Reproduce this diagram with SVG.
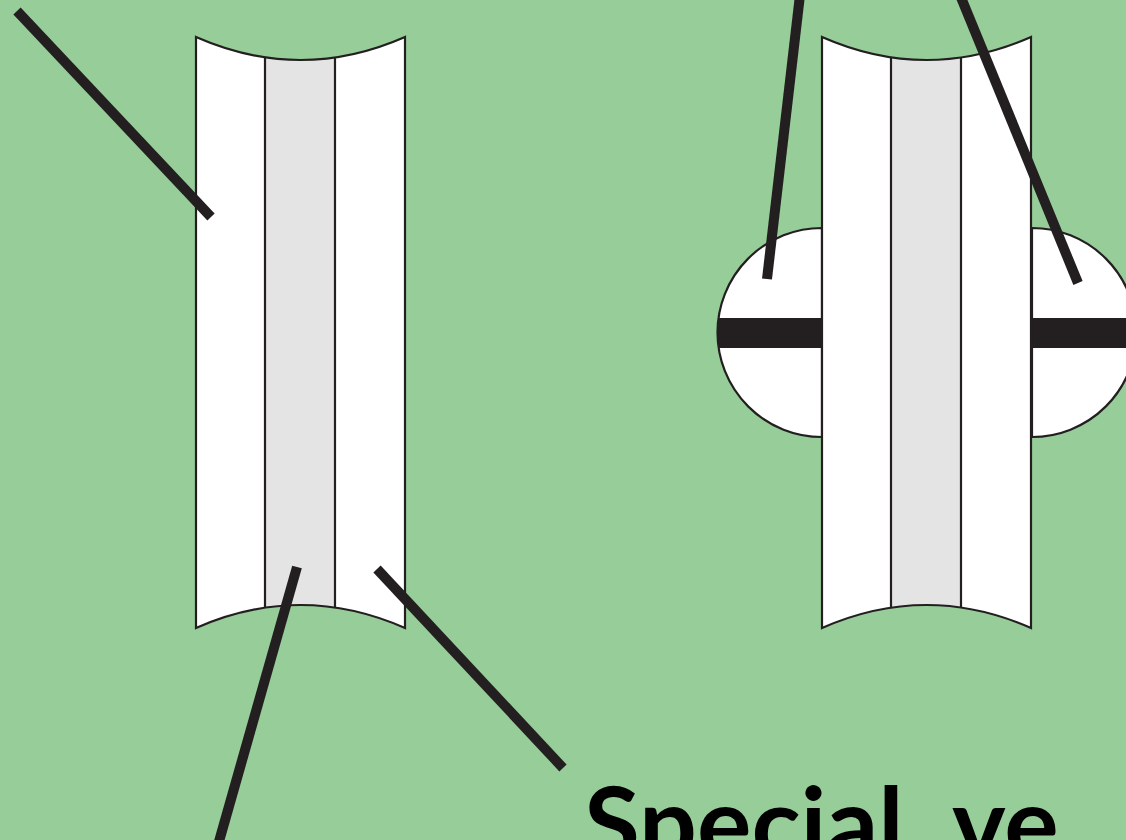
<svg xmlns="http://www.w3.org/2000/svg" width="1126" height="840" viewBox="0 0 1126 840">
  <style>
    .outline { fill: none; stroke: #231f20; stroke-width: 2.2; }
    .wall { fill: #ffffff; }
    .lumen { fill: #e4e4e4; }
    .cap { fill: #ffffff; stroke: #231f20; stroke-width: 2.2; }
    .band { fill: #231f20; }
    .leader { stroke: #231f20; stroke-width: 10; stroke-linecap: butt; fill: none; }
    .label { font-family: "Lato", "Liberation Sans", sans-serif; font-size: 102px; font-weight: 700; fill: #000000; word-spacing: 26px; }
  </style>
  <defs>
    <path id="tube-shape" d="M196,37 Q300.5,83 405,37 L405,628 Q300.5,582 196,628 Z"/>
    <clipPath id="tube-clip">
      <use href="#tube-shape"/>
    </clipPath>
    <g id="tube">
      <use href="#tube-shape" class="wall"/>
      <g clip-path="url(#tube-clip)">
        <rect x="265" y="0" width="70" height="700" class="lumen"/>
        <line x1="265" y1="0" x2="265" y2="700" class="outline"/>
        <line x1="335" y1="0" x2="335" y2="700" class="outline"/>
      </g>
      <use href="#tube-shape" class="outline"/>
    </g>
  </defs>

  <rect width="1126" height="840" fill="#97cd99"/>

  <g id="plain-vessel">
    <use href="#tube"/>
  </g>

  <g id="ringed-vessel">
    <g id="left-ring">
      <path d="M822,228 A104.5,104.5 0 0 0 822,437 Z" class="cap"/>
      <rect x="718" y="318" width="104" height="30" class="band"/>
    </g>
    <g id="right-ring">
      <path d="M1032,228 A104.5,104.5 0 0 1 1032,437 Z" class="cap"/>
      <rect x="1032" y="318" width="100" height="30" class="band"/>
    </g>
    <use href="#tube" transform="translate(626,0)"/>
  </g>

  <g id="connectors">
    <line x1="17" y1="11" x2="211" y2="217" class="leader"/>
    <line x1="297" y1="567" x2="218" y2="845" class="leader"/>
    <line x1="377" y1="569" x2="563" y2="768" class="leader"/>
    <line x1="800" y1="-5" x2="767" y2="279" class="leader"/>
    <line x1="960" y1="-5" x2="1078" y2="283" class="leader"/>
  </g>

  <g id="caption">
    <text x="584" y="860" class="label">Special ve</text>
  </g>
</svg>
